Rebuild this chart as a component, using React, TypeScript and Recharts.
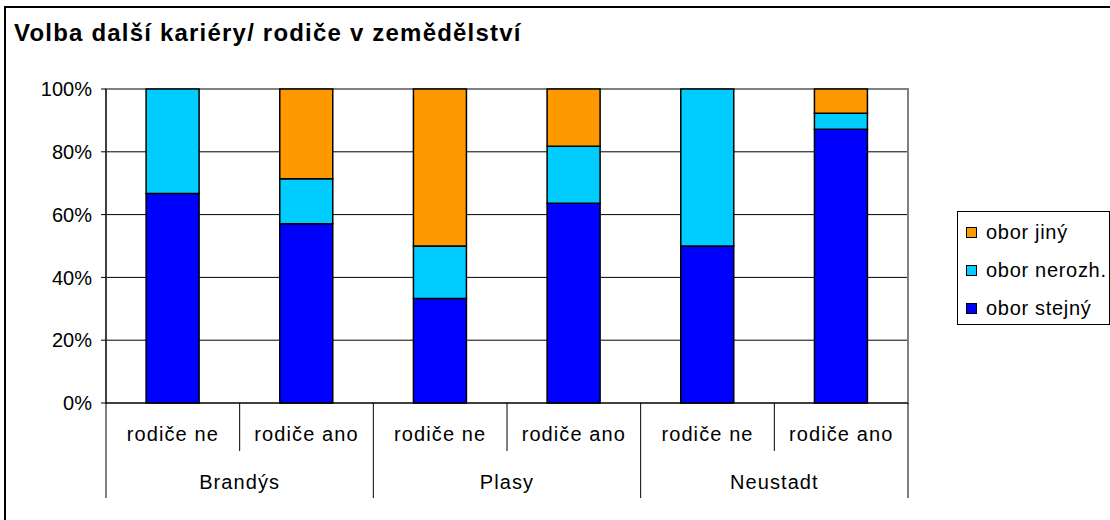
import { BarChart, Bar, XAxis, YAxis, CartesianGrid, ReferenceArea } from 'recharts';

const categories = ['rodiče ne', 'rodiče ano', 'rodiče ne', 'rodiče ano', 'rodiče ne', 'rodiče ano'];
const groups = ['Brandýs', 'Brandýs', 'Plasy', 'Plasy', 'Neustadt', 'Neustadt'];
const stejny = [66.7, 57.1, 33.3, 63.6, 50.0, 87.2];
const nerozh = [33.3, 14.3, 16.7, 18.2, 50.0, 5.1];
const jiny = [0, 28.6, 50.0, 18.2, 0, 7.7];
const yTicks = [0, 20, 40, 60, 80, 100];

const FONT = '"Liberation Sans", Arial, sans-serif';
const CHART_W = 1110;
const CHART_H = 520;
const MARGIN = { top: 89, right: 202, left: 46, bottom: 17 };
const Y_AXIS_W = 60;
const PLOT_W = CHART_W - MARGIN.left - MARGIN.right - Y_AXIS_W;
const BAND = PLOT_W / categories.length;

const data = categories.map((cat, i) => ({
  cat,
  group: groups[i],
  stejny: stejny[i],
  nerozh: nerozh[i],
  jiny: jiny[i],
}));

const series = [
  { key: 'jiny', name: 'obor jiný', color: '#FF9900' },
  { key: 'nerozh', name: 'obor nerozh.', color: '#00CCFF' },
  { key: 'stejny', name: 'obor stejný', color: '#0000FF' },
];

// two-level category axis: label + separators, group label on every second tick
function CategoryTick(props: any) {
  const { x, y, index, payload } = props;
  const half = BAND / 2;
  const lastInGroup = index % 2 === 1;
  return (
    <g>
      <text x={x} y={y + 38} textAnchor="middle" fontSize={20} letterSpacing={1.1} fontFamily={FONT} fill="#000">
        {payload.value}
      </text>
      {index === 0 && <line x1={x - half} y1={y} x2={x - half} y2={y + 95} stroke="#000" />}
      <line x1={x + half} y1={y} x2={x + half} y2={y + (lastInGroup ? 95 : 48)} stroke="#000" />
      {lastInGroup && (
        <text x={x - half} y={y + 86} textAnchor="middle" fontSize={20} letterSpacing={1.1} fontFamily={FONT} fill="#000">
          {groups[index]}
        </text>
      )}
    </g>
  );
}

function LegendBox() {
  return (
    <div
      style={{
        position: 'absolute',
        left: 957,
        top: 211,
        width: 153,
        height: 114,
        border: '1px solid #000',
        background: '#fff',
        fontFamily: FONT,
        fontSize: 20,
        letterSpacing: 0.7,
        boxSizing: 'border-box',
        paddingTop: 1,
      }}
    >
      {series.map((s) => (
        <div key={s.key} style={{ display: 'flex', alignItems: 'center', height: 38, paddingLeft: 8 }}>
          <span
            style={{
              width: 9,
              height: 9,
              background: s.color,
              border: '1px solid #000',
              marginRight: 9,
              display: 'inline-block',
              flexShrink: 0,
            }}
          />
          <span style={{ whiteSpace: 'nowrap' }}>{s.name}</span>
        </div>
      ))}
    </div>
  );
}

export default function App() {
  return (
    <div style={{ position: 'fixed', left: 0, top: 0, width: CHART_W, height: CHART_H, overflow: 'hidden', background: '#fff' }}>
      <div
        style={{
          position: 'absolute',
          left: 4,
          top: 6,
          width: CHART_W,
          height: CHART_H,
          border: '2px solid #000',
        }}
      />
      <div
        style={{
          position: 'absolute',
          left: 14,
          top: 19,
          fontFamily: FONT,
          fontWeight: 'bold',
          fontSize: 24,
          letterSpacing: 1.2,
          color: '#000',
          whiteSpace: 'nowrap',
        }}
      >
        Volba další kariéry/ rodiče v zemědělství
      </div>
      <div style={{ position: 'absolute', left: 0, top: 0 }}>
        <BarChart width={CHART_W} height={CHART_H} data={data} margin={MARGIN} barCategoryGap="30%">
          <ReferenceArea yAxisId={0} y1={0} y2={100} fill="none" stroke="#808080" strokeWidth={2} />
          <CartesianGrid vertical={false} stroke="#000" horizontalValues={[20, 40, 60, 80]} />
          <XAxis
            dataKey="cat"
            height={100}
            interval={0}
            tickSize={0}
            tickMargin={0}
            tickLine={false}
            axisLine={{ stroke: '#000' }}
            tick={<CategoryTick />}
          />
          <YAxis
            width={Y_AXIS_W}
            domain={[0, 100]}
            ticks={yTicks}
            tickFormatter={(v) => `${v}%`}
            tick={{ fontSize: 20, fontFamily: FONT, fill: '#000' }}
            tickSize={5}
            tickMargin={9}
            tickLine={{ stroke: '#000' }}
            axisLine={{ stroke: '#000' }}
          />
          {[...series].reverse().map((s) => (
            <Bar
              key={s.key}
              dataKey={s.key}
              name={s.name}
              stackId="a"
              fill={s.color}
              stroke="#000"
              strokeWidth={1.5}
              isAnimationActive={false}
            />
          ))}
        </BarChart>
      </div>
      <LegendBox />
    </div>
  );
}
